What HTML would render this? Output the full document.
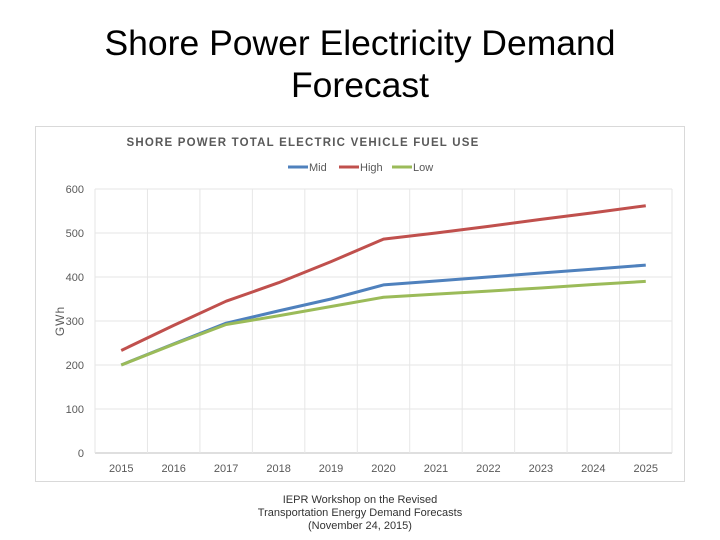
<!DOCTYPE html>
<html><head><meta charset="utf-8"><style>
body{margin:0;width:720px;height:540px;background:#fff;font-family:"Liberation Sans",sans-serif;overflow:hidden}
#slide-title{position:absolute;left:0;width:720px;top:22px;text-align:center;font-size:35.5px;line-height:42px;color:#000;font-family:"Liberation Sans",sans-serif}
#footer{position:absolute;left:0;width:720px;top:494px;text-align:center;font-size:11px;line-height:13px;color:#333}
svg{position:absolute;left:0;top:0}
</style></head><body>
<div id="slide-title">Shore Power Electricity Demand<br>Forecast</div>
<svg id="chart" width="720" height="540"></svg>
<div id="footer">IEPR Workshop on the Revised<br>Transportation Energy Demand Forecasts<br>(November 24, 2015)</div>
<script>
const categories=["2015","2016","2017","2018","2019","2020","2021","2022","2023","2024","2025"];
const mid=[200,248,295,323,350,382,391,400,409,418,427];
const high=[233,290,345,387,435,486,500,515,531,546,562];
const low=[200,247,292,312,333,354,361,368,375,383,390];
const yTicks=[0,100,200,300,400,500,600];
const NS="http://www.w3.org/2000/svg";
const svg=document.getElementById('chart');
function mk(t,a,p){const e=document.createElementNS(NS,t);for(const k in a)e.setAttribute(k,a[k]);(p||svg).appendChild(e);return e;}
const L=95,R=672,T=189,B=453;
const step=(R-L)/categories.length;
const x=i=>L+step*(i+0.5);
const y=v=>B-(v/600)*(B-T);
let box=mk('rect',{x:35.5,y:126.5,width:649,height:355,fill:'#fff',stroke:'#d9d9d9'});


let t=mk('text',{x:303,y:146,'text-anchor':'middle','font-size':11.5,fill:'#595959','letter-spacing':'1.2','font-weight':'bold'});
t.textContent='SHORE POWER TOTAL ELECTRIC VEHICLE FUEL USE';


yTicks.forEach(v=>{
 let g=mk('line',{x1:L,x2:R,y1:y(v),y2:y(v),stroke:v===0?'#bfbfbf':'#e6e6e6'});
 
 
 let l=mk('text',{x:84,y:y(v)+4,'text-anchor':'end','font-size':11,fill:'#595959'});
 l.textContent=v;
 
 
});
for(let i=0;i<=categories.length;i++){
 let g=mk('line',{x1:L+step*i,x2:L+step*i,y1:T,y2:B,stroke:'#e6e6e6'});
 
 
}
categories.forEach((c,i)=>{
 let l=mk('text',{x:x(i),y:472,'text-anchor':'middle','font-size':11,fill:'#595959'});
 l.textContent=c;
 
 
});
let yt=mk('text',{x:0,y:0,transform:'translate(64,321) rotate(-90)','text-anchor':'middle','font-size':12,fill:'#595959','letter-spacing':'1'});
yt.textContent='GWh';


const series=[["Mid",mid,"#4f81bd"],["High",high,"#c0504d"],["Low",low,"#9bbb59"]];
series.forEach(([n,d,c])=>{
 let p=mk('polyline',{points:d.map((v,i)=>x(i)+','+y(v)).join(' '),fill:'none',stroke:c,'stroke-width':3,'stroke-linejoin':'round'});
 
 
});
const lx=[288,339,392];
series.forEach(([n,d,c],i)=>{
 let g=mk('g',{});
 
 
 mk('line',{x1:lx[i],x2:lx[i]+20,y1:167,y2:167,stroke:c,'stroke-width':3},g);
 let tt=mk('text',{x:lx[i]+21,y:171,'font-size':11,fill:'#595959'},g);
 tt.textContent=n;
});
</script>
</body></html>
